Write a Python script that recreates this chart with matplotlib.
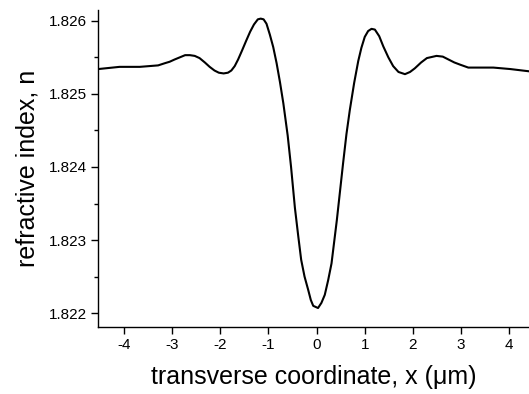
import matplotlib
matplotlib.use("Agg")
import matplotlib.pyplot as plt
from matplotlib.ticker import MultipleLocator

plt.rcParams['font.family'] = ['Liberation Sans', 'DejaVu Sans']
plt.rcParams['axes.unicode_minus'] = False

# transverse coordinate (um) and refractive index
x_um = [-4.53, -4.09, -3.67, -3.29, -3.15, -3.05, -2.95, -2.84, -2.73, -2.63,
        -2.53, -2.43, -2.32, -2.22, -2.12, -2.03, -1.93, -1.84, -1.77, -1.70,
        -1.63, -1.55, -1.46, -1.38, -1.30, -1.22, -1.16, -1.10, -1.04, -0.97,
        -0.90, -0.83, -0.76, -0.69, -0.60, -0.53, -0.45, -0.38, -0.32, -0.25,
        -0.175, -0.12, -0.07, 0.03, 0.10, 0.17, 0.24, 0.31, 0.42, 0.50, 0.55,
        0.62, 0.69, 0.78, 0.865, 0.93, 1.00, 1.07, 1.14, 1.21, 1.30, 1.385,
        1.49, 1.59, 1.70, 1.835, 1.94, 2.04, 2.17, 2.29, 2.49, 2.62, 2.74,
        2.86, 2.98, 3.15, 3.40, 3.67, 4.02, 4.40]
n_idx = [1.82534, 1.82537, 1.82537, 1.82539, 1.82542, 1.82544, 1.82547,
         1.82550, 1.82553, 1.82553, 1.82552, 1.82549, 1.82543, 1.82537,
         1.82532, 1.82529, 1.82528, 1.82529, 1.82532, 1.82538, 1.82547,
         1.82559, 1.82573, 1.82585, 1.82595, 1.82602, 1.82603, 1.82602,
         1.82596, 1.82581, 1.82564, 1.82542, 1.82516, 1.82487, 1.82443,
         1.82400, 1.82344, 1.82305, 1.82273, 1.82250, 1.82232, 1.82218,
         1.82210, 1.82207, 1.82214, 1.82225, 1.82245, 1.82268, 1.82327,
         1.82375, 1.82405, 1.82445, 1.82478, 1.82515, 1.82545, 1.82563,
         1.82578, 1.82586, 1.82589, 1.82588, 1.82579, 1.82565, 1.82550,
         1.82538, 1.82530, 1.82527, 1.82530, 1.82535, 1.82543, 1.82549,
         1.82552, 1.82551, 1.82547, 1.82543, 1.82540, 1.82536, 1.82536,
         1.82536, 1.82534, 1.82531]

fig = plt.figure(figsize=(5.29, 3.94), dpi=100)
ax = fig.add_axes([0.186, 0.170, 0.814, 0.805])

ax.plot(x_um, n_idx, color='black', lw=1.5, solid_joinstyle='round')

ax.set_xlim(-4.53, 4.41)
ax.set_ylim(1.82181, 1.82615)
ax.xaxis.set_major_locator(MultipleLocator(1))
ax.yaxis.set_major_locator(MultipleLocator(0.001))
ax.yaxis.set_minor_locator(MultipleLocator(0.0005))
ax.yaxis.set_major_formatter(plt.FormatStrFormatter('%.3f'))

for s in ['top', 'right']:
    ax.spines[s].set_visible(False)
for s in ['left', 'bottom']:
    ax.spines[s].set_linewidth(1.0)

ax.tick_params(which='major', direction='out', length=5, width=1.0,
               labelsize=11, pad=3)
ax.tick_params(which='minor', direction='out', length=3, width=1.0)

ax.set_xlabel('transverse coordinate, x (\u03bcm)', fontsize=18, labelpad=9)
ax.set_ylabel('refractive index, n', fontsize=18, labelpad=7)

fig.savefig('out.png', dpi=100)
